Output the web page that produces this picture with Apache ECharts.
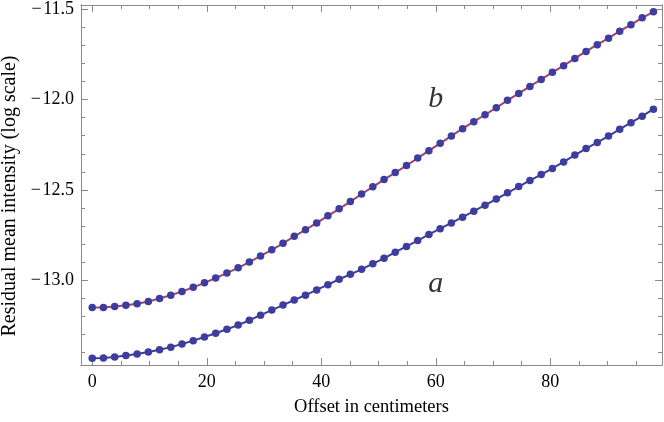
<!DOCTYPE html>
<html>
<head>
<meta charset="utf-8">
<script src="https://cdn.jsdelivr.net/npm/echarts@6/dist/echarts.min.js"></script>
<style>
  html, body { margin: 0; padding: 0; background: #fff; }
  #chart { width: 664px; height: 422px; }
</style>
</head>
<body>
<div id="chart"></div>
<script>
// offsets (cm) of the sample points
const offsets = [0, 1.96, 3.92, 5.88, 7.84, 9.8, 11.76, 13.72, 15.68, 17.64, 19.6,
  21.56, 23.52, 25.48, 27.44, 29.4, 31.36, 33.32, 35.28, 37.24, 39.2,
  41.16, 43.12, 45.08, 47.04, 49.0, 50.96, 52.92, 54.88, 56.84, 58.8,
  60.76, 62.72, 64.68, 66.64, 68.6, 70.56, 72.52, 74.48, 76.44, 78.4,
  80.36, 82.32, 84.28, 86.24, 88.2, 90.16, 92.12, 94.08, 96.04, 98.0];

// curve a (lower)
const seriesA = [-13.432, -13.431, -13.426, -13.418, -13.409, -13.398, -13.385, -13.371, -13.354, -13.335, -13.315,
  -13.294, -13.272, -13.249, -13.222, -13.194, -13.166, -13.138, -13.110, -13.083, -13.054,
  -13.025, -12.995, -12.968, -12.940, -12.909, -12.879, -12.845, -12.813, -12.781, -12.747,
  -12.715, -12.683, -12.651, -12.618, -12.585, -12.551, -12.516, -12.482, -12.448, -12.415,
  -12.381, -12.345, -12.307, -12.271, -12.237, -12.202, -12.164, -12.128, -12.092, -12.053];

// curve b (upper)
const seriesB = [-13.152, -13.151, -13.146, -13.139, -13.131, -13.118, -13.102, -13.083, -13.063, -13.040, -13.015,
  -12.988, -12.961, -12.932, -12.900, -12.866, -12.832, -12.796, -12.757, -12.721, -12.683,
  -12.644, -12.605, -12.565, -12.523, -12.483, -12.443, -12.404, -12.365, -12.324, -12.283,
  -12.242, -12.201, -12.161, -12.122, -12.084, -12.045, -12.004, -11.966, -11.927, -11.888,
  -11.849, -11.812, -11.772, -11.733, -11.696, -11.660, -11.621, -11.585, -11.547, -11.514];

const curveNames = ['a', 'b'];
const curveLabelX = [60, 60];
const curveLabelY = [-13.02, -12.0];

const xMajor = [0, 20, 40, 60, 80];
const xMinor = [5, 10, 15, 25, 30, 35, 45, 50, 55, 65, 70, 75, 85, 90, 95];
const yMajor = [-13.0, -12.5, -12.0, -11.5];
const yMinor = [-13.4, -13.3, -13.2, -13.1, -12.9, -12.8, -12.7, -12.6,
  -12.4, -12.3, -12.2, -12.1, -11.9, -11.8, -11.7, -11.6];

const xMin = -1.96, xMax = 99.5;
const yMin = -13.47, yMax = -11.476;

const frameColor = '#8a8a8a';
const serif = '"Liberation Serif", "DejaVu Serif", serif';

function pairs(xs, ys) {
  return xs.map((x, i) => [x, ys[i]]);
}

function xAxisDef(pos, ticks, len, showLabel) {
  return {
    type: 'value', position: pos, min: xMin, max: xMax,
    axisLine: { show: true, onZero: false, lineStyle: { color: frameColor, width: 1 } },
    axisTick: { show: true, inside: true, length: len, customValues: ticks, lineStyle: { color: frameColor } },
    axisLabel: {
      show: showLabel, customValues: ticks, margin: 8,
      color: '#000', fontFamily: serif, fontSize: 18
    },
    splitLine: { show: false }
  };
}

function yAxisDef(pos, ticks, len, showLabel) {
  return {
    type: 'value', position: pos, min: yMin, max: yMax,
    axisLine: { show: true, onZero: false, lineStyle: { color: frameColor, width: 1 } },
    axisTick: { show: true, inside: true, length: len, customValues: ticks, lineStyle: { color: frameColor } },
    axisLabel: {
      show: showLabel, customValues: ticks, margin: 7,
      color: '#000', fontFamily: serif, fontSize: 18,
      formatter: v => '\u2212\u200A' + Math.abs(v).toFixed(1)
    },
    splitLine: { show: false }
  };
}

const chart = echarts.init(document.getElementById('chart'));

const xAxes = [
  xAxisDef('bottom', xMajor, 7, true),
  xAxisDef('bottom', xMinor, 4, false),
  xAxisDef('top', xMajor, 7, false),
  xAxisDef('top', xMinor, 4, false)
];
xAxes[0].name = 'Offset in centimeters';
xAxes[0].nameLocation = 'middle';
xAxes[0].nameGap = 33;
xAxes[0].nameTextStyle = { color: '#000', fontFamily: serif, fontSize: 18.5 };

const yAxes = [
  yAxisDef('left', yMajor, 7, true),
  yAxisDef('left', yMinor, 4, false),
  yAxisDef('right', yMajor, 7, false),
  yAxisDef('right', yMinor, 4, false)
];
yAxes[0].name = 'Residual mean intensity (log scale)';
yAxes[0].nameLocation = 'middle';
yAxes[0].nameGap = 60;
yAxes[0].nameTextStyle = { color: '#000', fontFamily: serif, fontSize: 20, padding: [0, 22, 0, 0] };

chart.setOption({
  backgroundColor: '#fff',
  animation: false,
  grid: { left: 81, right: 2, top: 5, bottom: 57, outerBoundsMode: 'none' },
  xAxis: xAxes,
  yAxis: yAxes,
  series: [
    {
      name: 'a',
      type: 'line',
      data: pairs(offsets, seriesA),
      symbol: 'circle',
      symbolSize: 7.5,
      lineStyle: { color: '#3d3d9e', width: 2 },
      itemStyle: { color: '#3d3d9e' },
      z: 3
    },
    {
      name: 'b',
      type: 'line',
      data: pairs(offsets, seriesB),
      symbol: 'circle',
      symbolSize: 7.5,
      lineStyle: { color: '#a4406e', width: 2 },
      itemStyle: { color: '#3d3d9e' },
      z: 3
    },
    {
      name: 'labels',
      type: 'scatter',
      symbolSize: 0,
      data: curveNames.map((n, i) => ({ name: n, value: [curveLabelX[i], curveLabelY[i]] })),
      label: {
        show: true, position: 'inside', formatter: p => p.name,
        color: '#000', fontFamily: serif, fontStyle: 'italic', fontSize: 30
      },
      silent: true,
      z: 4
    }
  ]
});
</script>
</body>
</html>
